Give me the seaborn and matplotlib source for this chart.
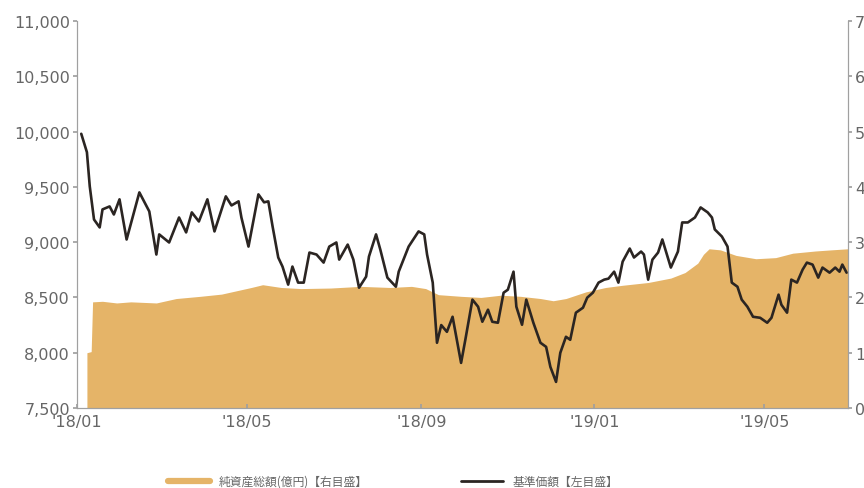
import matplotlib
matplotlib.use("Agg")
import matplotlib.pyplot as plt
import matplotlib.dates as mdates
from matplotlib.lines import Line2D
from matplotlib.ticker import FuncFormatter, FixedLocator
import seaborn as sns
import pandas as pd

# ---- data ----
nav_dates = [
    "2018-01-04", "2018-01-08", "2018-01-10", "2018-01-13", "2018-01-17", "2018-01-19",
    "2018-01-24", "2018-01-27", "2018-01-31", "2018-02-05", "2018-02-14", "2018-02-21",
    "2018-02-26", "2018-02-28", "2018-03-07", "2018-03-14", "2018-03-19", "2018-03-23",
    "2018-03-28", "2018-04-03", "2018-04-08", "2018-04-16", "2018-04-20", "2018-04-25",
    "2018-04-27", "2018-05-02", "2018-05-09", "2018-05-13", "2018-05-16", "2018-05-19",
    "2018-05-23", "2018-05-26", "2018-05-30", "2018-06-02", "2018-06-06", "2018-06-10",
    "2018-06-14", "2018-06-19", "2018-06-24", "2018-06-28", "2018-07-03", "2018-07-05",
    "2018-07-11", "2018-07-15", "2018-07-19", "2018-07-24", "2018-07-26", "2018-07-31",
    "2018-08-03", "2018-08-08", "2018-08-14", "2018-08-16", "2018-08-23", "2018-08-30",
    "2018-09-03", "2018-09-05", "2018-09-09", "2018-09-12", "2018-09-15", "2018-09-19",
    "2018-09-23", "2018-09-29", "2018-10-02", "2018-10-07", "2018-10-11", "2018-10-14",
    "2018-10-18", "2018-10-21", "2018-10-25", "2018-10-29", "2018-11-01", "2018-11-05",
    "2018-11-07", "2018-11-11", "2018-11-14", "2018-11-19", "2018-11-24", "2018-11-28",
    "2018-12-01", "2018-12-05", "2018-12-08", "2018-12-12", "2018-12-15", "2018-12-19",
    "2018-12-24", "2018-12-27", "2018-12-31", "2019-01-04", "2019-01-08", "2019-01-11",
    "2019-01-15", "2019-01-18", "2019-01-21", "2019-01-26", "2019-01-29", "2019-02-03",
    "2019-02-05", "2019-02-08", "2019-02-11", "2019-02-15", "2019-02-18", "2019-02-24",
    "2019-03-01", "2019-03-04", "2019-03-08", "2019-03-13", "2019-03-17", "2019-03-22",
    "2019-03-25", "2019-03-27", "2019-04-01", "2019-04-05", "2019-04-08", "2019-04-12",
    "2019-04-15", "2019-04-19", "2019-04-23", "2019-04-28", "2019-05-03", "2019-05-06",
    "2019-05-11", "2019-05-13", "2019-05-17", "2019-05-20", "2019-05-24", "2019-05-28",
    "2019-05-31", "2019-06-04", "2019-06-08", "2019-06-11", "2019-06-16", "2019-06-20",
    "2019-06-23", "2019-06-25", "2019-06-28",
]
nav_values = [
    9980, 9813, 9505, 9205, 9133, 9296,
    9323, 9250, 9387, 9024, 9450, 9278,
    8888, 9070, 8997, 9223, 9088, 9269,
    9187, 9387, 9097, 9414, 9332, 9369,
    9223, 8960, 9432, 9360, 9369, 9142,
    8861, 8779, 8616, 8779, 8634, 8634,
    8906, 8888, 8815, 8960, 8997, 8842,
    8978, 8842, 8588, 8688, 8870, 9070,
    8933, 8679, 8597, 8733, 8960, 9097,
    9070, 8888, 8634, 8090, 8250, 8189,
    8325, 7908, 8117, 8480, 8416, 8280,
    8389, 8280, 8271, 8543, 8570, 8733,
    8416, 8253, 8480, 8271, 8090, 8053,
    7872, 7736, 7999, 8144, 8117, 8362,
    8407, 8498, 8543, 8634, 8661, 8670,
    8733, 8634, 8824, 8942, 8861, 8915,
    8888, 8661, 8842, 8906, 9024, 8770,
    8915, 9178, 9178, 9223, 9314, 9269,
    9223, 9115, 9051, 8960, 8634, 8597,
    8480, 8416, 8325, 8316, 8271, 8316,
    8525, 8434, 8362, 8661, 8634, 8752,
    8815, 8797, 8679, 8770, 8724, 8770,
    8733, 8797, 8724,
]

aum_dates = [
    "2018-01-08", "2018-01-11", "2018-01-12", "2018-01-19", "2018-01-29", "2018-02-08",
    "2018-02-26", "2018-03-12", "2018-03-29", "2018-04-13", "2018-04-27", "2018-05-04",
    "2018-05-12", "2018-05-25", "2018-06-08", "2018-06-29", "2018-07-20", "2018-08-10",
    "2018-08-25", "2018-09-04", "2018-09-13", "2018-09-29", "2018-10-13", "2018-10-27",
    "2018-11-10", "2018-11-24", "2018-12-03", "2018-12-12", "2018-12-26", "2019-01-09",
    "2019-01-21", "2019-02-08", "2019-02-24", "2019-03-06", "2019-03-15", "2019-03-19",
    "2019-03-23", "2019-03-31", "2019-04-11", "2019-04-25", "2019-05-09", "2019-05-21",
    "2019-06-06", "2019-06-17", "2019-06-29",
]
aum_values = [
    1.00, 1.02, 1.92, 1.93, 1.90, 1.92,
    1.90, 1.98, 2.02, 2.06, 2.14, 2.18,
    2.23, 2.18, 2.16, 2.17, 2.20, 2.18,
    2.20, 2.16, 2.05, 2.02, 2.00, 2.04,
    2.02, 1.98, 1.94, 1.98, 2.10, 2.18,
    2.22, 2.27, 2.35, 2.45, 2.62, 2.78,
    2.88, 2.86, 2.76, 2.70, 2.72, 2.80,
    2.84, 2.86, 2.88,
]

tick_dates = ["2018-01-01", "2018-05-01", "2018-09-01", "2019-01-01", "2019-05-01"]
tick_labels = ["'18/01", "'18/05", "'18/09", "'19/01", "'19/05"]
left_ticks = [7500, 8000, 8500, 9000, 9500, 10000, 10500, 11000]
right_ticks = [0, 1, 2, 3, 4, 5, 6, 7]
legend_labels = ["純資産総額(億円)【右目盛】", "基準価額【左目盛】"]

# ---- style ----
sns.set_theme(style="white")
plt.rcParams["font.family"] = ["DejaVu Sans", "Noto Sans CJK JP"]

AREA_COLOR = "#E5B468"
LINE_COLOR = "#2B2522"
AXIS_COLOR = "#A0A0A0"
TEXT_COLOR = "#666666"

nav_df = pd.DataFrame({"date": pd.to_datetime(nav_dates), "nav": nav_values})
aum_df = pd.DataFrame({"date": pd.to_datetime(aum_dates), "aum": aum_values})

fig = plt.figure(figsize=(8.64, 4.89), dpi=100)
ax = fig.add_axes([77 / 864, 1 - 409 / 489, (848 - 77) / 864, (409 - 22) / 489])
ax2 = ax.twinx()

# area (right axis)
ax2.fill_between(aum_df["date"], 0, aum_df["aum"], color=AREA_COLOR, linewidth=0)
ax2.set_ylim(0, 7)

# line (left axis)
sns.lineplot(data=nav_df, x="date", y="nav", ax=ax, color=LINE_COLOR, linewidth=1.9)
ax.set_ylim(7500, 11000)
ax.set_xlim(pd.Timestamp("2018-01-01"), pd.Timestamp("2019-06-29"))

ax.set_zorder(ax2.get_zorder() + 1)
ax.patch.set_visible(False)

ax.set_xlabel("")
ax.set_ylabel("")
ax2.set_ylabel("")

ax.xaxis.set_major_locator(FixedLocator([mdates.date2num(pd.Timestamp(d)) for d in tick_dates]))
ax.set_xticklabels(tick_labels)
ax.set_yticks(left_ticks)
ax.yaxis.set_major_formatter(FuncFormatter(lambda v, p: f"{int(v):,}"))
ax2.set_yticks(right_ticks)

for a in (ax, ax2):
    for s in a.spines.values():
        s.set_color(AXIS_COLOR)
        s.set_linewidth(0.8)
    a.spines["top"].set_visible(False)

ax.tick_params(axis="x", direction="in", length=3, color=AXIS_COLOR,
               labelcolor=TEXT_COLOR, labelsize=11.5, pad=4, bottom=True)
ax.tick_params(axis="y", direction="out", length=3, color=AXIS_COLOR,
               labelcolor=TEXT_COLOR, labelsize=11.5, pad=2, left=True)
ax2.tick_params(axis="y", direction="out", length=3, color=AXIS_COLOR,
                labelcolor=TEXT_COLOR, labelsize=11.5, pad=2, right=True)

handles = [Line2D([], [], color=AREA_COLOR, linewidth=4.5),
           Line2D([], [], color=LINE_COLOR, linewidth=2.0)]
leg = fig.legend(handles, legend_labels, loc="center", bbox_to_anchor=(0.455, 0.014),
                 ncol=2, frameon=False, handlelength=3.5, handletextpad=0.8,
                 columnspacing=7.9, prop={"family": ["Noto Sans CJK JP", "DejaVu Sans"], "size": 8.5})
for t in leg.get_texts():
    t.set_color(TEXT_COLOR)

fig.savefig("out.png", dpi=100)
